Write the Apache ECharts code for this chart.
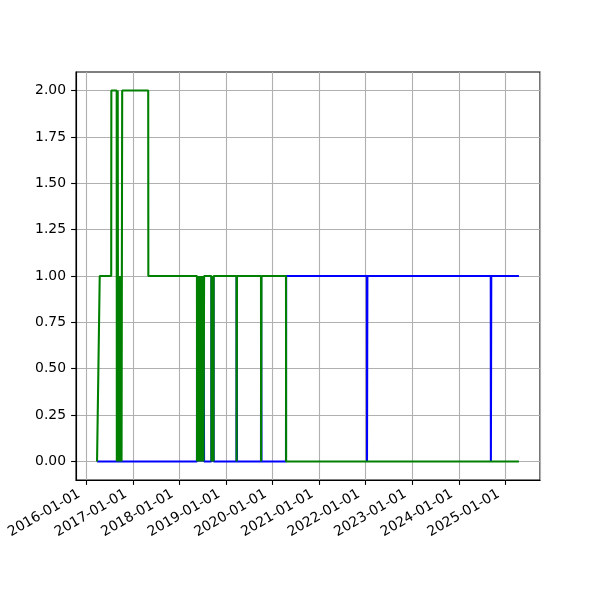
<!DOCTYPE html>
<html>
<head>
<meta charset="utf-8">
<script src="https://cdn.jsdelivr.net/npm/echarts@6/dist/echarts.min.js"></script>
<style>
html,body{margin:0;padding:0;background:#fff;}
#chart{width:600px;height:600px;}
</style>
</head>
<body>
<div id="chart"></div>
<script>
// Blue series points [date, value]
var blueData = [
  ['2016-03-27',0],
  ['2018-05-19',0],['2018-05-20',1],
  ['2018-05-24',1],['2018-05-25',0],
  ['2018-05-29',0],['2018-05-30',1],
  ['2018-06-03',1],['2018-06-04',0],
  ['2018-06-08',0],['2018-06-09',1],
  ['2018-06-13',1],['2018-06-14',0],
  ['2018-06-18',0],['2018-06-19',1],
  ['2018-06-23',1],['2018-06-24',0],
  ['2018-06-28',0],['2018-06-29',1],
  ['2018-07-03',1],['2018-07-04',0],
  ['2018-07-08',0],['2018-07-09',1],
  ['2018-07-13',1],['2018-07-14',0],
  ['2018-09-09',0],['2018-09-10',1],['2018-09-11',0],
  ['2018-09-17',0],['2018-09-18',1],['2018-09-19',0],
  ['2018-09-25',0],['2018-09-26',1],['2018-09-27',0],
  ['2019-03-25',0],['2019-03-26',1],
  ['2019-03-28',1],['2019-03-29',0],
  ['2019-10-03',0],['2019-10-04',1],
  ['2019-10-06',1],['2019-10-07',0],
  ['2020-04-16',0],['2020-04-17',1],
  ['2022-01-10',1],['2022-01-11',0],
  ['2022-01-13',0],['2022-01-14',1],
  ['2024-09-07',1],['2024-09-08',0],
  ['2024-09-10',0],['2024-09-11',1],
  ['2025-04-16',1]
];

// Green series points [date, value]
var greenData = [
  ['2016-03-27',0],
  ['2016-04-17',1],
  ['2016-07-16',1],['2016-07-17',2],
  ['2016-08-28',2],['2016-08-29',0],
  ['2016-09-04',0],['2016-09-05',2],
  ['2016-09-07',2],['2016-09-08',0],
  ['2016-09-12',0],['2016-09-13',1],
  ['2016-09-16',1],['2016-09-17',0],
  ['2016-09-21',0],['2016-09-22',1],
  ['2016-09-25',1],['2016-09-26',0],
  ['2016-09-30',0],['2016-10-01',1],
  ['2016-10-04',1],['2016-10-05',0],
  ['2016-10-09',0],['2016-10-10',2],
  ['2017-05-02',2],['2017-05-03',1],
  ['2018-05-19',1],['2018-05-20',0],
  ['2018-05-24',0],['2018-05-25',1],
  ['2018-05-29',1],['2018-05-30',0],
  ['2018-06-03',0],['2018-06-04',1],
  ['2018-06-08',1],['2018-06-09',0],
  ['2018-06-13',0],['2018-06-14',1],
  ['2018-06-18',1],['2018-06-19',0],
  ['2018-06-23',0],['2018-06-24',1],
  ['2018-06-28',1],['2018-06-29',0],
  ['2018-07-03',0],['2018-07-04',1],
  ['2018-07-08',1],['2018-07-09',0],
  ['2018-07-13',0],['2018-07-14',1],
  ['2018-09-09',1],['2018-09-10',0],['2018-09-11',1],
  ['2018-09-17',1],['2018-09-18',0],['2018-09-19',1],
  ['2018-09-25',1],['2018-09-26',0],['2018-09-27',1],
  ['2019-03-25',1],['2019-03-26',0],
  ['2019-03-28',0],['2019-03-29',1],
  ['2019-10-03',1],['2019-10-04',0],
  ['2019-10-06',0],['2019-10-07',1],
  ['2020-04-16',1],['2020-04-17',0],
  ['2025-04-16',0]
];

var yTicks = [0, 0.25, 0.5, 0.75, 1.0, 1.25, 1.5, 1.75, 2.0];
var xMin = '2015-10-14';
var xMax = '2025-09-28';

var chart = echarts.init(document.getElementById('chart'), null, {renderer: 'canvas'});
var FONT = 'DejaVu Sans';
function pad(n){return (n<10?'0':'')+n;}
var YEAR = 365 * 24 * 3600 * 1000;

chart.setOption({
  animation: false,
  backgroundColor: '#ffffff',
  grid: {
    left: 76, top: 72, width: 464, height: 408,
    show: true, borderColor: '#000', borderWidth: 1.1, backgroundColor: 'transparent',
    containLabel: false
  },
  xAxis: {
    type: 'time',
    min: xMin,
    max: xMax,
    splitNumber: 10,
    minInterval: YEAR,
    maxInterval: YEAR,
    axisLine: {show: true, onZero: false, lineStyle: {color: '#000', width: 1.1}},
    axisTick: {show: true, inside: false, length: 4.9, lineStyle: {color: '#000', width: 1.1}},
    splitLine: {show: true, lineStyle: {color: '#b0b0b0', width: 1.1}},
    axisLabel: {
      show: true,
      rotate: 30,
      margin: 9,
      padding: [0, 8, 0, 0],
      showMinLabel: false,
      showMaxLabel: false,
      color: '#000',
      fontFamily: FONT,
      fontSize: 13.9,
      hideOverlap: false,
      formatter: function (v) {
        var d = new Date(v);
        return d.getFullYear() + '-' + pad(d.getMonth() + 1) + '-' + pad(d.getDate());
      }
    }
  },
  yAxis: {
    type: 'value',
    min: -0.1,
    max: 2.1,
    axisLine: {show: true, onZero: false, lineStyle: {color: '#000', width: 1.1}},
    axisTick: {show: true, inside: false, length: 4.9, customValues: yTicks, lineStyle: {color: '#000', width: 1.1}},
    splitLine: {show: true, lineStyle: {color: '#b0b0b0', width: 1.1}},
    axisLabel: {
      show: true,
      margin: 10,
      customValues: yTicks,
      color: '#000',
      fontFamily: FONT,
      fontSize: 13.9,
      formatter: function (v) { return v.toFixed(2); }
    }
  },
  series: [
    {
      type: 'line',
      data: blueData,
      showSymbol: false,
      symbol: 'none',
      lineStyle: {color: '#0000ff', width: 2.08},
      itemStyle: {color: '#0000ff'},
      z: 2
    },
    {
      type: 'line',
      data: greenData,
      showSymbol: false,
      symbol: 'none',
      lineStyle: {color: '#008000', width: 2.08},
      itemStyle: {color: '#008000'},
      z: 3
    }
  ]
});
</script>
</body>
</html>
